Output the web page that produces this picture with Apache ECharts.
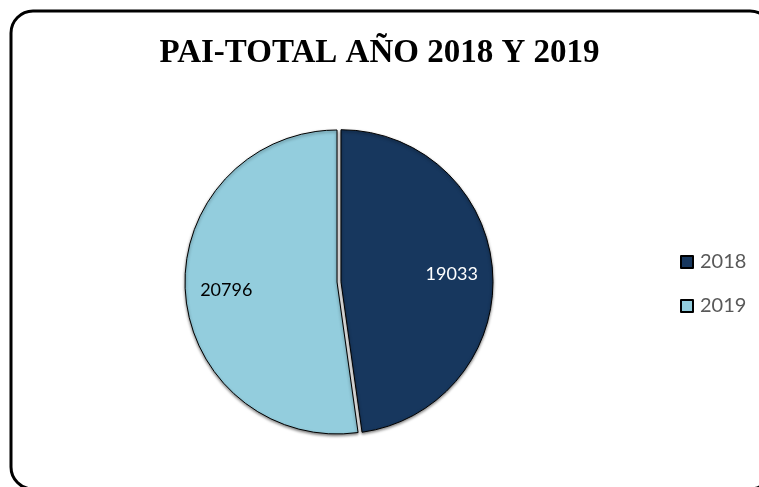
<!DOCTYPE html>
<html><head><meta charset="utf-8">
<script src="https://cdn.jsdelivr.net/npm/echarts@6/dist/echarts.min.js"></script>
<style>html,body{margin:0;padding:0;background:#fff}#c{width:759px;height:487px}</style>
</head><body><div id="c"></div>
<script>
const titleText = 'PAI-TOTAL AÑO 2018 Y 2019';
const categories = ['2018', '2019'];
const values = [19033, 20796];
const colors = ['#17375E', '#93CDDD'];
const labelColors = ['#FFFFFF', '#000000'];

const chart = echarts.init(document.getElementById('c'), null, {renderer: 'canvas'});
const baseData = categories.map((c, i) => ({
  name: c, value: values[i], selected: i === 0,
  itemStyle: {color: colors[i]}
}));
const labelData = categories.map((c, i) => ({
  name: c, value: values[i], selected: i === 0,
  label: {color: labelColors[i]}
}));
chart.setOption({
  animation: false,
  title: {
    text: titleText, left: 'center', top: 32,
    textStyle: {fontFamily: 'Liberation Serif', fontWeight: 'bold', fontSize: 33, color: '#000'}
  },
  legend: {
    orient: 'vertical', left: 675, top: 246,
    itemWidth: 12, itemHeight: 12, itemGap: 22,
    icon: 'rect',
    data: categories,
    textStyle: {fontFamily: 'Lato', fontSize: 20, color: '#595959', lineHeight: 22, padding: [0,0,0,2]},
    selectedMode: false
  },
  graphic: [{
    type: 'rect', shape: {x: 11, y: 11, width: 761, height: 478, r: 22},
    style: {fill: 'none', stroke: '#000', lineWidth: 3}, z: -1
  }],
  series: [{
    type: 'pie', center: [337, 282], radius: 152,
    selectedMode: 'single', selectedOffset: 4,
    startAngle: 90, clockwise: true,
    itemStyle: {borderColor: '#000', borderWidth: 1, shadowBlur: 3, shadowOffsetY: 1.5, shadowColor: 'rgba(0,0,0,0.5)'},
    label: {show: false}, labelLine: {show: false},
    emphasis: {disabled: true},
    data: baseData
  }, {
    type: 'pie', center: [337, 282], radius: [64, 152],
    selectedMode: 'single', selectedOffset: 4, silent: true,
    startAngle: 90, clockwise: true,
    itemStyle: {color: 'rgba(0,0,0,0)', borderWidth: 0},
    label: {show: true, position: 'inside', formatter: '{c}', fontFamily: 'Lato', fontSize: 18},
    labelLine: {show: false},
    emphasis: {disabled: true},
    data: labelData
  }]
});
</script></body></html>
